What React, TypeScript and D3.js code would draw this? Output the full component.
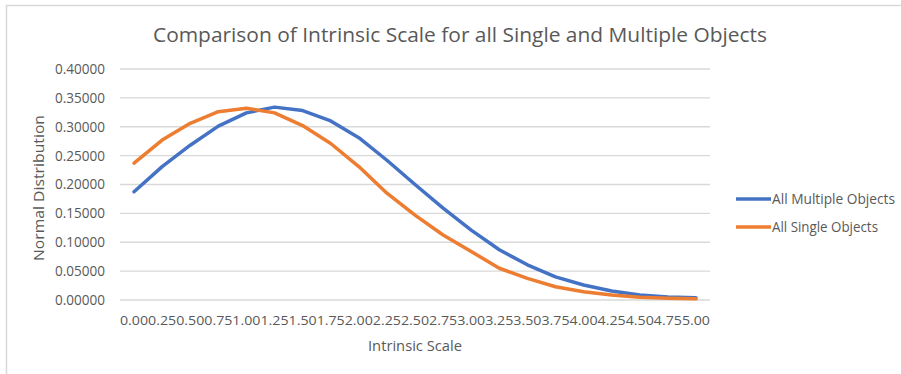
import React from "react";
import * as d3 from "d3";

const categories = ["0.00","0.25","0.50","0.75","1.00","1.25","1.50","1.75","2.00","2.25","2.50","2.75","3.00","3.25","3.50","3.75","4.00","4.25","4.50","4.75","5.00"];
const multipleObjects = [0.1875,0.231,0.268,0.301,0.324,0.334,0.328,0.310,0.281,0.242,0.200,0.159,0.121,0.087,0.061,0.040,0.026,0.0156,0.0087,0.005,0.004];
const singleObjects = [0.237,0.277,0.306,0.326,0.332,0.324,0.302,0.271,0.231,0.185,0.147,0.1125,0.084,0.055,0.0375,0.023,0.0144,0.0087,0.0046,0.003,0.002];
const yTicks = [0,0.05,0.1,0.15,0.2,0.25,0.3,0.35,0.4];

const series = [
  { name: "All Multiple Objects", values: multipleObjects, color: "#4472C4", labelWidth: 123 },
  { name: "All Single Objects", values: singleObjects, color: "#ED7D31", labelWidth: 106 },
];

const W = 901, H = 374;
const plot = { left: 120, right: 710, top: 69, bottom: 300 };
const FONT = "'Open Sans', 'Liberation Sans', sans-serif";
const TEXT = "#595959";

export default function App() {
  const x = d3.scaleBand<string>().domain(categories).range([plot.left, plot.right]);
  const y = d3.scaleLinear().domain([0, 0.4]).range([plot.bottom, plot.top]);
  const cx = (c: string) => (x(c) ?? 0) + x.bandwidth() / 2;
  const line = d3.line<number>().x((_, i) => cx(categories[i])).y((v) => y(v));

  return (
    <svg width={W} height={H} style={{ position: "absolute", left: 0, top: 0, background: "#fff" }} fontFamily={FONT}>
      <rect x={6.5} y={5.5} width={W} height={H} fill="#fff" stroke="#d9d9d9" strokeWidth={1.5} />
      <text x={460} y={42} textAnchor="middle" fontSize={20.5} fill={TEXT}
        textLength={614} lengthAdjust="spacingAndGlyphs">
        Comparison of Intrinsic Scale for all Single and Multiple Objects
      </text>

      {yTicks.map((t) => (
        <g key={t}>
          <line x1={plot.left} x2={plot.right} y1={y(t)} y2={y(t)} stroke="#d9d9d9" strokeWidth={1.3} />
          <text x={105} y={y(t)} dy="0.35em" textAnchor="end" fontSize={14} fill={TEXT}
            textLength={50} lengthAdjust="spacingAndGlyphs">
            {t.toFixed(5)}
          </text>
        </g>
      ))}

      {categories.map((c) => (
        <text key={c} x={cx(c)} y={325} textAnchor="middle" fontSize={13.5} fill={TEXT}
          textLength={x.bandwidth()} lengthAdjust="spacingAndGlyphs">
          {c}
        </text>
      ))}

      <text x={415} y={351} textAnchor="middle" fontSize={14.5} fill={TEXT}
        textLength={94} lengthAdjust="spacingAndGlyphs">Intrinsic Scale</text>
      <text transform={`translate(44,188) rotate(-90)`} textAnchor="middle" fontSize={14.5} fill={TEXT}
        textLength={146} lengthAdjust="spacingAndGlyphs">
        Normal Distribution
      </text>

      {series.map((s) => (
        <path key={s.name} d={line(s.values) ?? ""} fill="none" stroke={s.color} strokeWidth={3.5}
          strokeLinejoin="round" strokeLinecap="round" />
      ))}

      {series.map((s, i) => (
        <g key={s.name} transform={`translate(0,${199 + i * 28})`}>
          <line x1={736} x2={771} y1={0} y2={0} stroke={s.color} strokeWidth={3.5} />
          <text x={772} y={0} dy="0.35em" fontSize={14} fill={TEXT}
            textLength={s.labelWidth} lengthAdjust="spacingAndGlyphs">{s.name}</text>
        </g>
      ))}
    </svg>
  );
}
